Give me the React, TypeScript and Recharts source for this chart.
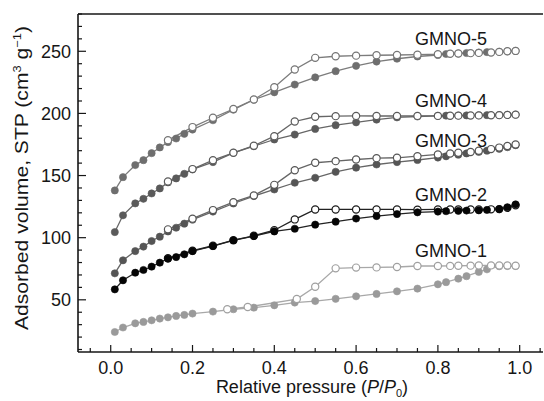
import { LineChart, Line, XAxis, YAxis, ReferenceLine, ReferenceDot } from "recharts";

// relative pressure P/P0 for the adsorption and desorption branches
const P_ADS = [
  0.01, 0.03, 0.06, 0.08, 0.1, 0.12, 0.14, 0.16, 0.18, 0.2, 0.25, 0.3, 0.35, 0.4, 0.45,
  0.5, 0.55, 0.6, 0.65, 0.7, 0.75, 0.8, 0.82, 0.85, 0.87, 0.9, 0.92, 0.95, 0.97, 0.99,
];
const P_DES = [
  0.99, 0.97, 0.95, 0.93, 0.9, 0.88, 0.85, 0.83, 0.8, 0.75, 0.7, 0.65, 0.6, 0.55, 0.5,
  0.45, 0.4, 0.35, 0.3, 0.25, 0.2, 0.14,
];
const P_DES_1 = [
  0.99, 0.97, 0.95, 0.93, 0.9, 0.88, 0.85, 0.83, 0.8, 0.75, 0.7, 0.65, 0.6, 0.55, 0.5,
  0.455, 0.335, 0.285,
];

// adsorbed volume (cm3 g-1)
const GMNO5_ADS = [
  138, 148.7, 158.4, 162.4, 168, 172.6, 176.9, 179.8, 183.6, 187, 194.5, 203, 211, 217, 223.2,
  229, 234, 238.3, 241.7, 244, 245.8, 247, 247.8, 248.2, 248.6, 249, 249.3, 249.6, 250, 250.3,
];
const GMNO5_DES = [
  250.3, 250, 249.5, 249, 248.7, 248.5, 248.2, 248, 247.6, 247.3, 247, 246.8, 246.5, 246, 244.7,
  235.3, 221, 211.2, 203.5, 196.5, 189, 178.5,
];
const GMNO4_ADS = [
  104.5, 118, 127.6, 131.3, 135.6, 139.6, 144.5, 147.7, 151.4, 155, 160.8, 168.3, 173.6, 179, 183,
  187.5, 190.5, 192.8, 195, 196.8, 197.5, 198, 198.2, 198.3, 198.4, 198.5, 198.6, 198.7, 198.8, 199,
];
const GMNO4_DES = [
  199, 198.8, 198.6, 198.5, 198.4, 198.3, 198.2, 198.1, 198, 198, 197.9, 197.9, 198, 197.8, 197.3,
  193.5, 181.7, 174, 168.3, 162.4, 155.2, 145.3,
];
const GMNO3_ADS = [
  71.3, 81.8, 89.2, 92.8, 97.3, 100.8, 105, 108, 111.3, 114.5, 121, 127.5, 133.5, 138.8, 144.2,
  148.2, 153, 156.3, 158.9, 160.8, 162.5, 164.5, 165.5, 166.8, 167.8, 169, 170, 171.5, 172.8, 174.4,
];
const GMNO3_DES = [
  175, 173.8, 172.5, 171.3, 170, 169, 168.3, 167.7, 167, 165.6, 164.3, 164, 162.9, 161.6, 160.3,
  154.3, 142.5, 134, 128.6, 122.2, 115.3, 106.7,
];
const GMNO2_ADS = [
  58.4, 65.7, 71.8, 74, 76.7, 79.9, 83.1, 84.4, 86.6, 89.2, 93.2, 97.8, 101.3, 105, 107.2,
  110.5, 112.9, 115.4, 117.4, 119, 120.4, 121, 121.3, 121.6, 121.8, 122, 122.3, 123, 124.5, 126.8,
];
const GMNO2_DES = [
  126, 124, 123, 122.8, 122.7, 122.7, 122.7, 122.7, 122.7, 122.5, 122.7, 122.7, 122.7, 122.7, 122.7,
  114.7, 106, 101.5, 98, 93.5, 89.5, 83.5,
];
const GMNO1_ADS = [
  24.1, 27.7, 31.1, 32.2, 33.5, 34.9, 35.9, 37, 37.8, 38.9, 40.5, 42.4, 43.7, 45.6, 47.8,
  49, 50.8, 52.8, 54.7, 56.8, 59, 62.5, 64.2, 67, 69, 72.4, 74.5, 77, 77.2, 77.2,
];
const GMNO1_DES = [
  77.4, 77.6, 77.7, 77.7, 77.6, 77.5, 77.4, 77.3, 77.2, 77.2, 76.4, 76.1, 75.9, 75.3, 60.5,
  50.6, 44.2, 42.4,
];

const SAMPLE_NAMES = ["GMNO-1", "GMNO-2", "GMNO-3", "GMNO-4", "GMNO-5"];
const LABEL_P = [0.744, 0.744, 0.744, 0.744, 0.744];
const LABEL_V = [89.3, 134.4, 177.8, 210, 259.9];

const X_TICKS = [
  -0.05, 0, 0.05, 0.1, 0.15, 0.2, 0.25, 0.3, 0.35, 0.4, 0.45, 0.5, 0.55, 0.6, 0.65, 0.7,
  0.75, 0.8, 0.85, 0.9, 0.95, 1, 1.05,
];
const X_LABELS = [0, 0.2, 0.4, 0.6, 0.8, 1];
const Y_TICKS = [
  10, 20, 30, 40, 50, 60, 70, 80, 90, 100, 110, 120, 130, 140, 150, 160, 170, 180, 190, 200,
  210, 220, 230, 240, 250, 260, 270, 280,
];
const Y_LABELS = [50, 100, 150, 200, 250];

const FONT = '"Liberation Sans", Arial, sans-serif';
const INK = "#161616";

const pairs = (ps: number[], vs: number[]) => ps.map((p, i) => ({ p, v: vs[i] }));

function XTick({ x, y, payload }: any) {
  const major = X_LABELS.includes(payload.value);
  return (
    <g>
      <line x1={x} x2={x} y1={y} y2={y - (major ? 7 : 4)} stroke={INK} strokeWidth={1.2} />
      {major && (
        <text x={x} y={y + 22} textAnchor="middle" fontSize={18} fill={INK}>
          {payload.value.toFixed(1)}
        </text>
      )}
    </g>
  );
}

function YTick({ x, y, payload }: any) {
  const major = Y_LABELS.includes(payload.value);
  return (
    <g>
      <line x1={x} x2={x + (major ? 8 : 4)} y1={y} y2={y} stroke={INK} strokeWidth={1.2} />
      {major && (
        <text x={x - 7} y={y + 6.5} textAnchor="end" fontSize={18} fill={INK}>
          {payload.value}
        </text>
      )}
    </g>
  );
}

function YTitle() {
  return (
    <text
      transform="translate(28,178) rotate(-90)"
      textAnchor="middle"
      fontSize={18}
      fill={INK}
      textLength={304}
      lengthAdjust="spacingAndGlyphs"
    >
      Adsorbed volume, STP (cm
      <tspan dy={-7} fontSize={11}>3</tspan>
      <tspan dy={7}> g</tspan>
      <tspan dy={-7} fontSize={11}>−1</tspan>
      <tspan dy={7}>)</tspan>
    </text>
  );
}

function XTitle() {
  return (
    <text x={312} y={393} textAnchor="middle" fontSize={18} fill={INK}>
      Relative pressure (<tspan fontStyle="italic">P</tspan>/<tspan fontStyle="italic">P</tspan>
      <tspan dy={4} fontSize={11}>0</tspan>
      <tspan dy={-4}>)</tspan>
    </text>
  );
}

const nameLabel = (name: string) => (props: any) => (
  <text x={props.cx} y={props.cy + 6.5} fontSize={18} fill={INK}>
    {name}
  </text>
);

type Series = { key: string; data: { p: number; v: number }[]; color: string; line: string; open: boolean };

const SERIES: Series[] = [
  { key: "g1a", data: pairs(P_ADS, GMNO1_ADS), color: "#9a9a9a", line: "#a8a8a8", open: false },
  { key: "g1d", data: pairs(P_DES_1, GMNO1_DES), color: "#a0a0a0", line: "#a8a8a8", open: true },
  { key: "g2d", data: pairs(P_DES, GMNO2_DES), color: "#1a1a1a", line: "#222", open: true },
  { key: "g2a", data: pairs(P_ADS, GMNO2_ADS), color: "#050505", line: "#222", open: false },
  { key: "g3a", data: pairs(P_ADS, GMNO3_ADS), color: "#555555", line: "#666", open: false },
  { key: "g3d", data: pairs(P_DES, GMNO3_DES), color: "#555555", line: "#666", open: true },
  { key: "g4a", data: pairs(P_ADS, GMNO4_ADS), color: "#5a5a5a", line: "#666", open: false },
  { key: "g4d", data: pairs(P_DES, GMNO4_DES), color: "#5a5a5a", line: "#666", open: true },
  { key: "g5a", data: pairs(P_ADS, GMNO5_ADS), color: "#6e6e6e", line: "#7c7c7c", open: false },
  { key: "g5d", data: pairs(P_DES, GMNO5_DES), color: "#757575", line: "#7c7c7c", open: true },
];

export default function App() {
  return (
    <div
      style={{
        position: "absolute",
        left: 0,
        top: 0,
        width: 544,
        height: 401,
        background: "#fff",
        fontFamily: FONT,
      }}
    >
      <LineChart width={544} height={401} margin={{ top: 14, right: 1, bottom: 0, left: 0 }}>
        <XAxis
          dataKey="p"
          type="number"
          domain={[-0.08, 1.057]}
          allowDataOverflow
          ticks={X_TICKS}
          interval={0}
          tick={<XTick />}
          tickLine={false}
          tickSize={0}
          tickMargin={0}
          height={49}
          axisLine={{ stroke: INK, strokeWidth: 1.6 }}
          label={<XTitle />}
        />
        <YAxis
          type="number"
          domain={[8, 280]}
          allowDataOverflow
          ticks={Y_TICKS}
          interval={0}
          tick={<YTick />}
          tickLine={false}
          tickSize={0}
          tickMargin={0}
          width={78}
          axisLine={{ stroke: INK, strokeWidth: 1.6 }}
          label={<YTitle />}
        />
        <ReferenceLine y={280} stroke={INK} strokeWidth={1.6} ifOverflow="visible" />
        {SERIES.map((s) => (
          <Line
            key={s.key}
            data={s.data}
            dataKey="v"
            type="linear"
            stroke={s.line}
            strokeWidth={1.3}
            dot={{
              r: 3.6,
              fill: s.open ? "#fff" : s.color,
              stroke: s.color,
              strokeWidth: s.open ? 1.2 : 0.6,
            }}
            isAnimationActive={false}
          />
        ))}
        {SAMPLE_NAMES.map((name, i) => (
          <ReferenceDot
            key={name}
            x={LABEL_P[i]}
            y={LABEL_V[i]}
            r={0}
            shape={nameLabel(name)}
            ifOverflow="visible"
          />
        ))}
      </LineChart>
    </div>
  );
}
